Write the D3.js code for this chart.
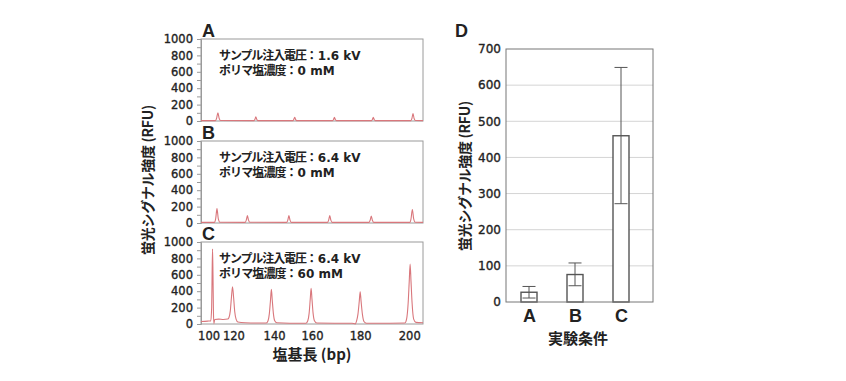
<!DOCTYPE html>
<html><head><meta charset="utf-8">
<script src="https://cdn.jsdelivr.net/npm/d3@7/dist/d3.min.js"></script>
<style>
html,body{margin:0;padding:0;background:#fff;}
svg{display:block;font-family:"Noto Sans CJK JP","Noto Sans",sans-serif;}
</style></head>
<body>
<svg id="chart" width="846" height="381"></svg>
<script>
// ---------------- DATA ----------------
const panelNames = ["A", "B", "C"];
const voltages = ["1.6 kV", "6.4 kV", "6.4 kV"];
const saltConcs = ["0 mM", "0 mM", "60 mM"];
const rfuTicks = [0, 200, 400, 600, 800, 1000];
const sizeLabels = [100, 120, 140, 160, 180, 200];
const sizeLabelTimes = [3.4, 14.6, 32.9, 50.0, 71.7, 93.8];

// electropherogram traces: [migration time (a.u.), RFU]
const traceA = [[0,5],[6.5,5],[7.0,30],[7.6,100],[8.2,30],[8.8,6],[23.9,5],[24.3,20],[24.7,50],[25.1,20],[25.6,5],
  [41.4,5],[41.8,20],[42.2,45],[42.6,20],[43.1,5],[59.3,5],[59.7,18],[60.1,45],[60.5,18],[61.0,5],
  [76.8,5],[77.2,18],[77.6,45],[78.0,18],[78.5,5],[94.5,5],[95.0,30],[95.5,90],[96.0,30],[96.6,6],[100,5]];
const traceB = [[0,8],[6.0,8],[6.6,50],[7.2,175],[7.8,50],[8.5,10],[19.9,8],[20.4,35],[20.9,90],[21.4,35],[22.0,9],
  [38.6,8],[39.1,35],[39.6,90],[40.1,35],[40.7,8],[57.0,8],[57.5,35],[58.0,90],[58.5,35],[59.1,8],
  [75.7,8],[76.2,33],[76.7,85],[77.2,33],[77.8,8],[94.1,8],[94.6,50],[95.2,165],[95.8,50],[96.5,10],[100,8]];
const traceC = [[0,30],[3,35],[4.4,38],[4.8,200],[5.0,600],[5.2,915],[5.4,600],[5.6,150],[5.8,5],[6.2,55],[8,60],[10,55],[12,60],
  [12.6,80],[13.2,160],[13.7,320],[14.2,455],[14.7,320],[15.2,150],[15.8,60],[16.6,25],[20,15],[25,12],
  [29.4,12],[30.2,40],[30.8,130],[31.3,290],[31.7,423],[32.1,290],[32.6,130],[33.2,40],[34.2,15],[40,10],
  [47.3,10],[48.1,40],[48.7,130],[49.2,300],[49.6,434],[50.0,300],[50.5,130],[51.1,40],[52.2,12],[60,10],
  [68,10],[69.5,0],[70.0,30],[70.7,120],[71.3,280],[71.7,394],[72.1,280],[72.7,120],[73.4,30],[74.5,10],
  [85,10],[91.8,12],[92.6,60],[93.3,250],[93.8,520],[94.2,732],[94.6,520],[95.1,250],[95.8,60],[96.8,20],[100,15]];
const traces = [traceA, traceB, traceC];

// panel D
const conditions = ["A", "B", "C"];
const meanRFU = [27, 76, 460];
const errLow = [11, 45, 272];
const errHigh = [43, 108, 649];
const dTicks = [0, 100, 200, 300, 400, 500, 600, 700];

// ---------------- DRAW ----------------
const svg = d3.select("#chart");
const traceColor = "#d9777c";
const frameColor = "#9a9a9a";
const textColor = "#222";
const numFont = "'DejaVu Sans', sans-serif";
const mixFont = "'DejaVu Sans', 'Noto Sans CJK JP', sans-serif";

function styleNums(sel, size) {
  sel.attr("fill", textColor).attr("font-size", size).attr("font-family", numFont)
    .attr("stroke", textColor).attr("stroke-width", 0.35);
}

const pLeft = 201, pRight = 423, pH = 82;
const pTops = [39, 141, 242];
const x = d3.scaleLinear().domain([0, 100]).range([pLeft, pRight]);

panelNames.forEach((name, i) => {
  const top = pTops[i];
  const y = d3.scaleLinear().domain([0, 1000]).range([top + pH, top]);
  const g = svg.append("g");
  g.append("rect").attr("x", pLeft).attr("y", top).attr("width", pRight - pLeft).attr("height", pH)
    .attr("fill", "none").attr("stroke", frameColor).attr("stroke-width", 1);
  const yAxis = d3.axisLeft(y).tickValues(d3.range(0, 1001, 100)).tickSize(4)
    .tickFormat(d => rfuTicks.includes(d) ? d : "");
  const ag = g.append("g").attr("transform", `translate(${pLeft},0)`).call(yAxis);
  ag.select(".domain").attr("stroke", frameColor);
  ag.selectAll(".tick line").attr("stroke", frameColor);
  styleNums(ag.selectAll(".tick text").attr("x", -8), 11.5);
  const line = d3.line().x(d => x(d[0])).y(d => y(d[1])).curve(d3.curveMonotoneX);
  g.append("path").datum(traces[i]).attr("d", line).attr("fill", "none")
    .attr("stroke", traceColor).attr("stroke-width", 1.1);
  g.append("text").attr("x", pLeft + 1).attr("y", top - 2).text(name)
    .attr("font-size", 18).attr("font-weight", 700).attr("fill", textColor).attr("font-family", "'Liberation Sans', sans-serif");
  const t1 = g.append("text").attr("x", pLeft + 18).attr("y", top + 21).attr("font-size", 12)
    .attr("font-weight", 700).attr("fill", textColor).attr("font-family", mixFont);
  t1.append("tspan").attr("letter-spacing", -1.1).text("サンプル注入電圧");
  t1.append("tspan").text("：" + voltages[i]);
  const t2 = g.append("text").attr("x", pLeft + 18).attr("y", top + 36).attr("font-size", 12)
    .attr("font-weight", 700).attr("fill", textColor).attr("font-family", mixFont);
  t2.append("tspan").attr("letter-spacing", -0.9).text("ポリマ塩濃度");
  t2.append("tspan").text("：" + saltConcs[i]);
});

const xg = svg.append("g").attr("transform", `translate(0,${pTops[2] + pH})`);
xg.call(d3.axisBottom(x).tickValues(sizeLabelTimes).tickSize(0)
  .tickFormat((d, i) => sizeLabels[i]));
xg.select(".domain").remove();
styleNums(xg.selectAll(".tick text").attr("dy", "1.1em"), 11.5);

svg.append("text").attr("x", 312).attr("y", 360).attr("text-anchor", "middle")
  .text("塩基長 (bp)").attr("font-size", 15).attr("font-weight", 700).attr("fill", textColor);
svg.append("text").attr("transform", `translate(153,180) rotate(-90)`)
  .attr("text-anchor", "middle").text("蛍光シグナル強度 (RFU)").attr("letter-spacing", -0.3)
  .attr("font-size", 14).attr("font-weight", 700).attr("fill", textColor);

// ---------------- PANEL D ----------------
const dLeft = 506, dRight = 653, dTop = 49, dBottom = 302;
const yD = d3.scaleLinear().domain([0, 700]).range([dBottom, dTop]);
const xD = d3.scalePoint().domain(conditions).range([dLeft + 23, dRight - 32]);
const gD = svg.append("g");
gD.selectAll("line.grid").data(dTicks.slice(1, -1)).join("line").attr("class", "grid")
  .attr("x1", dLeft).attr("x2", dRight).attr("y1", d => yD(d)).attr("y2", d => yD(d))
  .attr("stroke", "#d4d4d4").attr("stroke-width", 1);
const yAxD = gD.append("g").attr("transform", `translate(${dLeft},0)`)
  .call(d3.axisLeft(yD).tickValues(dTicks).tickSize(0));
yAxD.select(".domain").remove();
styleNums(yAxD.selectAll(".tick text").attr("x", -5), 12);
const barW = 16;
gD.selectAll("rect.bar").data(conditions).join("rect").attr("class", "bar")
  .attr("x", d => xD(d) - barW / 2).attr("width", barW)
  .attr("y", (d, i) => yD(meanRFU[i])).attr("height", (d, i) => dBottom - yD(meanRFU[i]))
  .attr("fill", "#fff").attr("stroke", "#555").attr("stroke-width", 1.4);
const capW = 13;
conditions.forEach((c, i) => {
  const cx = xD(c);
  gD.append("line").attr("x1", cx).attr("x2", cx).attr("y1", yD(errLow[i])).attr("y2", yD(errHigh[i]))
    .attr("stroke", "#555").attr("stroke-width", 1);
  [errLow[i], errHigh[i]].forEach(v => gD.append("line").attr("x1", cx - capW / 2).attr("x2", cx + capW / 2)
    .attr("y1", yD(v)).attr("y2", yD(v)).attr("stroke", "#555").attr("stroke-width", 1));
});
gD.append("rect").attr("x", dLeft).attr("y", dTop).attr("width", dRight - dLeft).attr("height", dBottom - dTop)
  .attr("fill", "none").attr("stroke", "#777").attr("stroke-width", 1);
const xAxD = gD.append("g").attr("transform", `translate(0,${dBottom})`)
  .call(d3.axisBottom(xD).tickSize(0));
xAxD.select(".domain").remove();
xAxD.selectAll(".tick text").attr("fill", textColor).attr("font-size", 18).attr("font-weight", 700).attr("dy", "0.95em")
  .attr("font-family", "'Liberation Sans', sans-serif");
gD.append("text").attr("x", 578).attr("y", 344).attr("text-anchor", "middle").text("実験条件")
  .attr("font-size", 15).attr("font-weight", 700).attr("fill", textColor);
gD.append("text").attr("transform", `translate(470,176) rotate(-90)`).attr("text-anchor", "middle")
  .text("蛍光シグナル強度 (RFU)").attr("letter-spacing", -0.3).attr("font-size", 14).attr("font-weight", 700).attr("fill", textColor);
gD.append("text").attr("x", 455).attr("y", 37).text("D").attr("font-size", 18).attr("font-weight", 700)
  .attr("fill", textColor).attr("font-family", "'Liberation Sans', sans-serif");
</script>
</body></html>
